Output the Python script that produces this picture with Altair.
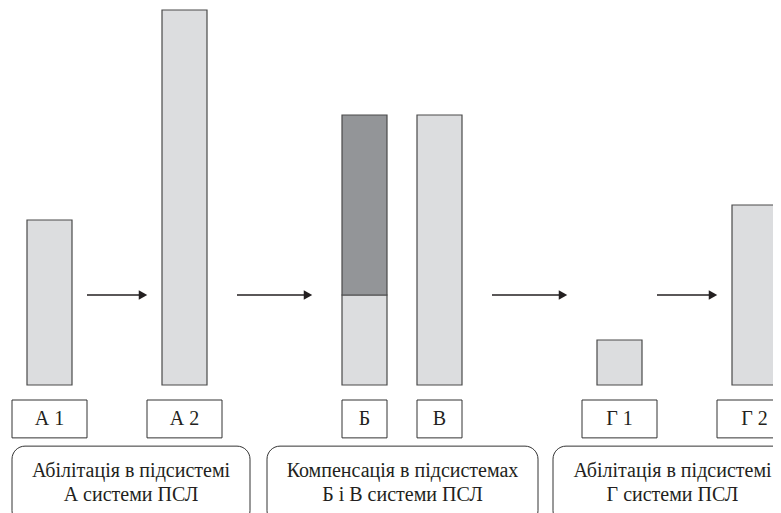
import altair as alt
import pandas as pd

# ---- data ----
labels = ["А 1", "А 2", "Б", "В", "Г 1", "Г 2"]
light_values = [44, 100, 24, 72, 12, 48]
dark_values = [0, 0, 48, 0, 0, 0]
arrow_from = ["А 1", "А 2", "В", "Г 1"]
arrow_to = ["А 2", "Б", "Г 1", "Г 2"]
arrow_level = [24, 24, 24, 24]
group_texts = [
    "Абілітація в підсистемі\nА системи ПСЛ",
    "Компенсація в підсистемах\nБ і В системи ПСЛ",
    "Абілітація в підсистемі\nГ системи ПСЛ",
]

# ---- layout (not data) ----
slot = [0, 9, 21, 26, 38, 47]
unit, origin, bar_w = 15, 49.5, 45
label_w = [75, 75, 45, 45, 75, 75]
arrow_gap = [15, 30, 30, 15]
group_span = [(12, 250), (267, 538), (553, 792)]
lab_top, lab_bot = -4.0, -14.1
grp_top, grp_bot = -16.3, -37.0
grp_text_y = -22.95
FONT = "Liberation Serif, Times New Roman, DejaVu Serif, serif"
INK = "#231f20"
W, H = 765, 505
PX = 3.75

centers = [origin + unit * s for s in slot]
cidx = {l: i for i, l in enumerate(labels)}

bars = []
for i, l in enumerate(labels):
    c = centers[i]
    bars.append(dict(x=c - bar_w / 2, x2=c + bar_w / 2, y=0, y2=light_values[i], part="light"))
    if dark_values[i] > 0:
        bars.append(dict(x=c - bar_w / 2, x2=c + bar_w / 2, y=light_values[i],
                         y2=light_values[i] + dark_values[i], part="dark"))
bars = pd.DataFrame(bars)

arrows = []
for f, t, lv, g in zip(arrow_from, arrow_to, arrow_level, arrow_gap):
    xs = centers[cidx[f]] + bar_w / 2 + g
    xe = centers[cidx[t]] - bar_w / 2 - g
    arrows.append(dict(x=xs, x2=xe - 6, xh=xe - 4, y=lv))
arrows = pd.DataFrame(arrows)

lab = pd.DataFrame([dict(label=l, xc=centers[i], x=centers[i] - label_w[i] / 2,
                         x2=centers[i] + label_w[i] / 2, y=lab_top, y2=lab_bot,
                         yt=(lab_top + lab_bot) / 2)
                    for i, l in enumerate(labels)])

grp = pd.DataFrame([dict(text=t, x=s[0], x2=s[1], xc=(s[0] + s[1]) / 2,
                         y=grp_top, y2=grp_bot, yt=grp_text_y)
                    for t, s in zip(group_texts, group_span)])

top_val = 377 / PX
xs_ = alt.Scale(domain=[8, 8 + W], nice=False, zero=False)
ys_ = alt.Scale(domain=[top_val - H / PX, top_val], nice=False, zero=False)

def X(f):
    return alt.X(f, type="quantitative", scale=xs_, axis=None)

def Y(f):
    return alt.Y(f, type="quantitative", scale=ys_, axis=None)

bar_layer = alt.Chart(bars).mark_rect(stroke="#4a4a4a", strokeWidth=1.2).encode(
    x=X("x"), x2="x2", y=Y("y"), y2="y2",
    color=alt.Color("part:N", scale=alt.Scale(domain=["light", "dark"],
                                              range=["#dcdddf", "#939598"]), legend=None),
)

arrow_line = alt.Chart(arrows).mark_rule(color=INK, strokeWidth=1.3).encode(
    x=X("x"), x2="x2", y=Y("y"))
arrow_head = alt.Chart(arrows).mark_point(shape="triangle-right", filled=True,
                                          color=INK, size=95, opacity=1).encode(
    x=X("xh"), y=Y("y"))

lab_box = alt.Chart(lab).mark_rect(fill="white", stroke="#333333", strokeWidth=1).encode(
    x=X("x"), x2="x2", y=Y("y"), y2="y2")
lab_text = alt.Chart(lab).mark_text(font=FONT, fontSize=20, color=INK, baseline="middle").encode(
    x=X("xc"), y=Y("yt"), text="label:N")

grp_box = alt.Chart(grp).mark_rect(fill="white", stroke="#333333", strokeWidth=1,
                                   cornerRadius=13).encode(
    x=X("x"), x2="x2", y=Y("y"), y2="y2")
grp_text = alt.Chart(grp).mark_text(font=FONT, fontSize=20, color=INK, baseline="middle",
                                    lineBreak="\n", lineHeight=24).encode(
    x=X("xc"), y=Y("yt"), text="text:N")

chart = alt.layer(bar_layer, arrow_line, arrow_head, lab_box, lab_text, grp_box, grp_text).properties(
    width=W, height=H, padding=0, autosize=alt.AutoSizeParams(type="none"),
    background="white",
).configure_view(stroke=None)

chart.save("out.html", embed_options={"renderer": "svg", "actions": False})
